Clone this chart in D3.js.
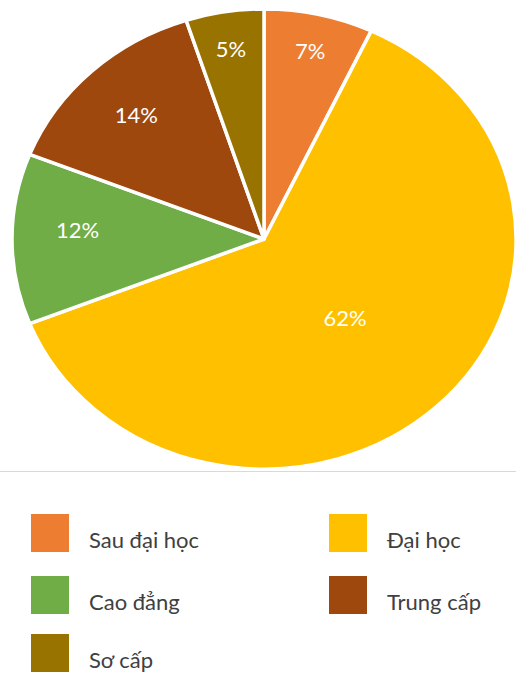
<!DOCTYPE html>
<html>
<head>
<meta charset="utf-8">
<script src="https://cdn.jsdelivr.net/npm/d3@7/dist/d3.min.js"></script>
<style>
  html, body { margin: 0; padding: 0; background: #fff; }
  svg { display: block; }
  text { font-family: Lato, "Noto Sans", sans-serif; }
</style>
</head>
<body>
<div id="chart"></div>
<script>
// Education level breakdown (percent)
const categories = ["Sau đại học", "Đại học", "Cao đẳng", "Trung cấp", "Sơ cấp"];
const values = [7, 62, 12, 14, 5];
const colors = ["#ED7D31", "#FFC000", "#70AD47", "#9E480E", "#997300"];

const W = 516, H = 673;
const cx = 264, cy = 239;
const ry = 230, rx = 252;

const svg = d3.select("#chart").append("svg")
  .attr("width", W).attr("height", H);

const pie = d3.pie().sort(null).value(d => d)(values);
const arc = d3.arc().innerRadius(0).outerRadius(ry);

// Pie is drawn slightly wider than tall
const pieG = svg.append("g")
  .attr("transform", `translate(${cx},${cy}) scale(${rx / ry},1)`);

pieG.selectAll("path")
  .data(pie)
  .enter().append("path")
  .attr("d", arc)
  .attr("fill", (d, i) => colors[i])
  .attr("stroke", "#fff")
  .attr("stroke-width", 3.5)
  .attr("stroke-linejoin", "round")
  .attr("vector-effect", "non-scaling-stroke");

// Percentage labels: narrow slices near the rim, wide ones further in
function labelRadius(v) {
  if (v > 50) return 0.47;
  if (v < 10) return 0.84;
  return 0.74;
}
const labelG = svg.append("g").attr("transform", `translate(${cx},${cy})`);
labelG.selectAll("text")
  .data(pie)
  .enter().append("text")
  .attr("transform", d => {
    const k = labelRadius(d.value);
    const a = (d.startAngle + d.endAngle) / 2;
    return `translate(${rx * k * Math.sin(a)},${-ry * k * Math.cos(a) - (d.value >= 10 && d.value < 13 ? 10 : 0)})`;
  })
  .attr("text-anchor", "middle")
  .attr("dominant-baseline", "central")
  .attr("fill", "#fff")
  .attr("font-size", 22)
  .attr("font-weight", 400)
  .text(d => d.value + "%");

// Separator between plot and legend
svg.append("line")
  .attr("x1", 0).attr("x2", W)
  .attr("y1", 471.5).attr("y2", 471.5)
  .attr("stroke", "#d9d9d9").attr("stroke-width", 1);

// Legend: two columns
const colX = [31, 329];
const rowY = [533, 595, 653];
const legend = svg.append("g");
const items = legend.selectAll("g")
  .data(categories)
  .enter().append("g")
  .attr("transform", (d, i) => `translate(${colX[i % 2]},${rowY[Math.floor(i / 2)]})`);

items.append("rect")
  .attr("x", 0).attr("y", -19)
  .attr("width", 38).attr("height", 38)
  .attr("fill", (d, i) => colors[i]);

items.append("text")
  .attr("x", 58).attr("y", 15)
  .attr("fill", "#404040")
  .attr("font-size", 22)
  .attr("font-weight", 400)
  .text(d => d);
</script>
</body>
</html>
